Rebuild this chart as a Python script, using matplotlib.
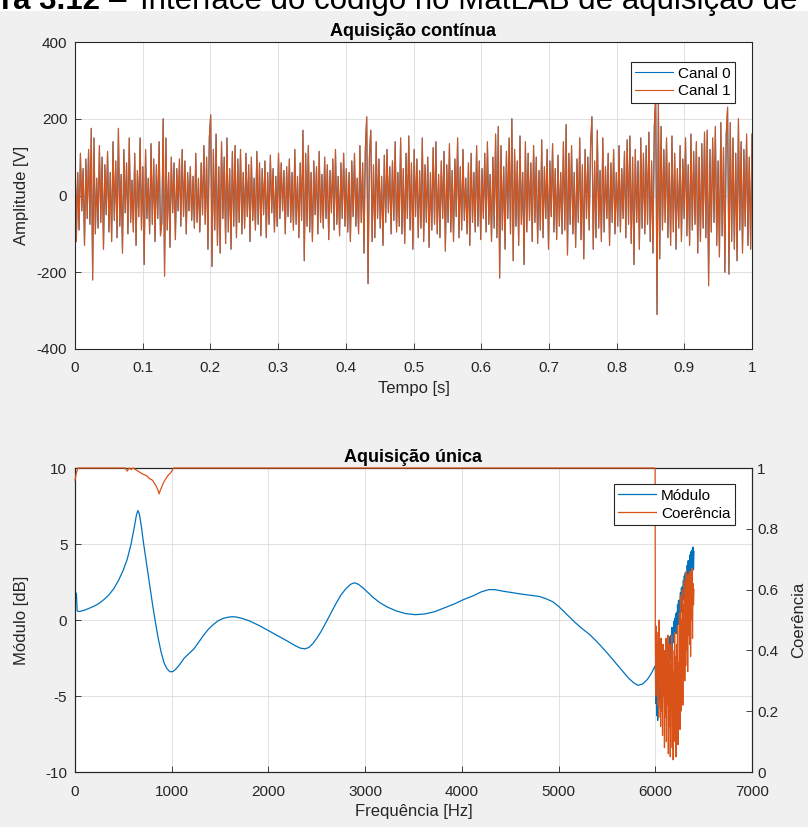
import matplotlib.pyplot as plt
import numpy as np
from matplotlib.patches import Rectangle

plt.rcParams['font.family'] = ['Liberation Sans', 'DejaVu Sans']
plt.rcParams['axes.unicode_minus'] = False

# Top chart: acquired signal (Canal 0 and Canal 1 overlap almost exactly)
canal_1 = [
    150, -120, 60, -90, 110, -40, 70, -130, 95, -60, 120, -75, 175, -220, 150, -100, 45, -85, 130, -70,
    100, -140, 80, -50, 115, -95, 60, -120, 140, -65, 90, -110, 175, -80, 55, -150, 120, -45, 85, -100,
    150, -70, 40, -95, 110, -130, 65, -55, 150, -90, 75, -180, 120, -60, 45, -100, 135, -75, 95, -120,
    80, -60, 140, -105, -70, 200, -210, 150, -90, 60, -135, 100, -45, 85, -115, 70, -40, 95, -80, 120,
    -55, 90, -100, 60, -40, 75, -65, 50, -85, 110, -70, 45, -95, 85, -50, 130, -75, 100, -140, 150,
    210, -185, 120, -90, 160, -130, 75, -150, 140, -60, 100, -125, 150, -95, 70, -140, 115, -80, 130, -110,
    95, -70, 120, -100, 60, -85, 110, -55, 80, -120, 100, -65, 45, -90, 115, -75, 85, -105, 70, -50,
    90, -110, 60, -75, 105, -45, 70, -95, 50, -80, 110, -60, 85, -40, 65, -100, 75, -55, 95, -70,
    60, -90, 120, -75, 50, -110, 85, -65, 170, -170, 110, -80, 130, -95, 60, -120, 90, -50, 75, -100,
    115, -70, 55, -85, 100, -60, 80, -115, 65, -45, 95, -90, 120, -75, 50, -105, 85, -60, 110, -80,
    70, -95, 60, -120, 90, -55, 110, -80, 45, -100, 130, -70, 85, -150, 120, 205, -230, 100, 170, -120,
    80, -110, 140, -60, 95, -85, 50, -130, 105, -70, 120, -45, 75, -100, 90, -65, 140, -95, 60, -80,
    150, -100, 70, -125, 110, -60, 155, -90, 85, -140, 120, -55, 95, -110, 65, -85, 150, -120, 80, -70,
    100, -135, 60, -90, 125, -75, 140, -100, 55, -110, 90, -60, 115, -145, 80, -70, 135, -95, 65, -120,
    95, -55, 150, -110, 75, -90, 120, -65, 45, -100, 85, -130, 110, -70, 60, -95, 130, -80, 90, -115,
    70, -60, 110, -95, 140, -75, 55, -120, 100, -85, 160, -110, 180, -215, 130, -90, 75, -140, 115, -60,
    150, -100, 200, -170, 120, -80, 90, -130, 155, -75, 60, -180, 140, -95, 110, -65, 85, -120, 130, -70,
    100, -125, 65, -90, 145, -110, 75, -60, 120, -140, 90, -55, 135, -95, 70, -115, 105, -80, 60, -100,
    140, -90, 185, -155, 110, -75, 130, -100, 60, -135, 95, -70, 150, -115, 80, -165, 120, -60, 100, -90,
    130, 205, -140, 90, -110, 170, -85, 65, -120, 150, -95, 75, -60, 110, -130, 85, -70, 120, -100, 60,
    -80, 130, -95, 70, -60, 115, -110, 145, -75, 155, -125, 100, -180, 120, -70, 90, -140, 150, -85, 110,
    -100, 130, -75, 165, -120, 90, -150, 180, 260, -310, 240, -165, 180, -90, 120, -70, 150, -110, 85, -130,
    155, -95, 110, -140, 70, -85, 130, -120, 95, -60, 150, -105, 80, -130, 160, -90, 115, -75, 140, -150,
    100, -120, 135, -85, 165, -110, 170, -235, 120, -95, 150, -70, 180, -130, 90, -160, 190, -105, 125, -200,
    160, 230, -205, 190, -120, 150, -140, 110, -170, 200, -90, 140, -150, 120, -80, 160, -130, 100, -140, 160,
]
canal_0 = list(canal_1)

# Bottom chart: smooth part of the magnitude (Hz, dB)
mod_freq = [0, 8, 15, 22, 40, 100, 150, 200, 250, 300, 350, 400, 450, 500, 540, 580, 610, 635, 650,
            665, 685, 710, 740, 770, 800, 830, 860, 890, 920, 950, 980, 1010, 1040, 1080, 1130, 1180,
            1230, 1280, 1330, 1380, 1430, 1480, 1530, 1580, 1630, 1680, 1730, 1800, 1900, 2000, 2100,
            2200, 2280, 2330, 2380, 2420, 2460, 2500, 2550, 2600, 2650, 2700, 2750, 2800, 2850, 2890,
            2930, 2980, 3030, 3080, 3150, 3230, 3320, 3420, 3520, 3620, 3720, 3820, 3920, 4020, 4120,
            4200, 4280, 4340, 4420, 4520, 4620, 4720, 4800, 4870, 4940, 5000, 5080, 5160, 5240, 5320,
            5400, 5480, 5560, 5640, 5720, 5780, 5822, 5870, 5920, 5960, 6000]
mod_db = [1.6, 1.8, 1.7, 0.6, 0.55, 0.65, 0.78, 0.92, 1.1, 1.35, 1.65, 2.05, 2.6, 3.3, 4.0, 5.0, 6.0, 6.9, 7.2,
          7.0, 6.2, 5.0, 3.7, 2.4, 1.1, -0.1, -1.2, -2.1, -2.8, -3.2, -3.4, -3.4, -3.25, -2.95, -2.5, -2.2,
          -1.9, -1.45, -1.0, -0.6, -0.3, -0.05, 0.1, 0.18, 0.22, 0.18, 0.1, -0.05, -0.35, -0.7, -1.05,
          -1.4, -1.7, -1.85, -1.9, -1.8, -1.55, -1.2, -0.7, -0.1, 0.5, 1.1, 1.65, 2.05, 2.35, 2.45,
          2.35, 2.1, 1.8, 1.5, 1.15, 0.85, 0.6, 0.42, 0.35, 0.4, 0.55, 0.8, 1.05, 1.35, 1.6,
          1.85, 2.0, 2.0, 1.9, 1.8, 1.7, 1.62, 1.55, 1.4, 1.2, 0.9, 0.4, -0.1, -0.55, -0.95,
          -1.45, -2.0, -2.6, -3.2, -3.8, -4.15, -4.3, -4.2, -3.9, -3.5, -3.0]

# noisy part of the magnitude, 6000 to 6400 Hz
mod_db_noisy = [-3.0, -5.5, -4.0, -6.3, -3.8, -6.6, -4.5, -5.8, -3.6, -5.2, -4.1, -5.6, -3.2, -4.9, -3.6,
                -4.5, -2.8, -4.3, -3.1, -4.4, -2.5, -3.9, -2.4, -3.5, -2.1, -3.4, -1.7, -3.1, -1.6, -2.7,
                -1.1, -2.6, -1.0, -2.1, -0.5, -2.0, -0.5, -1.5, -0.1, -1.4, 0.1, -0.9, 0.4, -0.9, 0.5,
                -0.4, 1.0, -0.3, 1.3, 0.2, 1.3, 0.5, 1.8, 0.5, 2.1, 0.8, 2.2, 1.3, 2.6, 1.4, 2.9,
                1.6, 3.1, 2.1, 3.1, 2.3, 3.6, 2.4, 3.9, 2.7, 3.9, 3.1, 4.3, 3.1, 4.5, 3.5, 4.6, 3.4,
                4.8, 3.3, 4.5]

# coherence, low frequency part (Hz, -)
coh_freq = [0, 15, 30, 520, 540, 560, 580, 600, 650, 700, 740, 770, 800, 820, 840, 860, 870, 880,
            900, 920, 940, 960, 990, 1020, 5998]
coh_val = [0.96, 0.985, 1.0, 1.0, 0.99, 1.0, 0.995, 1.0, 0.99, 0.98, 0.975, 0.965, 0.96, 0.95, 0.94,
           0.925, 0.915, 0.925, 0.94, 0.955, 0.965, 0.975, 0.985, 1.0, 1.0]

# coherence, noisy part 6000 to 6400 Hz
coh_noisy = [0.45, 0.25, 0.48, 0.30, 0.42, 0.22, 0.46, 0.18, 0.50, 0.28, 0.40, 0.15, 0.44, 0.20, 0.38,
             0.12, 0.42, 0.25, 0.35, 0.08, 0.40, 0.18, 0.44, 0.10, 0.36, 0.22, 0.45, 0.06, 0.38, 0.15,
             0.42, 0.05, 0.35, 0.20, 0.45, 0.08, 0.40, 0.04, 0.33, 0.12, 0.46, 0.10, 0.38, 0.05, 0.42,
             0.15, 0.48, 0.09, 0.36, 0.18, 0.52, 0.14, 0.58, 0.20, 0.50, 0.28, 0.60, 0.22, 0.55, 0.32,
             0.63, 0.30, 0.58, 0.35, 0.66, 0.40, 0.62, 0.33, 0.65, 0.45, 0.60, 0.42, 0.66, 0.38, 0.64,
             0.50, 0.67, 0.44, 0.62, 0.55, 0.60]

blue = '#0072BD'
orange = '#D95319'
dark = '#262626'
grid_c = '#dcdcdc'

fig = plt.figure(figsize=(8.08, 8.27), dpi=100, facecolor='#f0f0f0')
W, H = 808, 827

# white strip with the cut-off caption at the very top
fig.patches.append(Rectangle((0, 1 - 11 / H), 1, 11 / H, transform=fig.transFigure,
                             facecolor='white', edgecolor='none', zorder=-1))
fig.text(100 / W, 1 - 9 / H, 'ra 3.12', ha='right', va='baseline', fontsize=22.5,
         fontweight='bold', color='black')
fig.text(109 / W, 1 - 9 / H, '\u2013', ha='left', va='baseline', fontsize=22.5, color='black')
fig.text(140 / W, 1 - 9 / H, 'Interface do código no MatLAB de aquisição de', ha='left',
         va='baseline', fontsize=22.5, color='black')


def style(ax):
    ax.set_facecolor('white')
    for s in ax.spines.values():
        s.set_color(dark)
        s.set_linewidth(0.8)
    ax.tick_params(direction='in', length=4, width=0.6, colors=dark, labelsize=11)
    ax.tick_params(axis='x', pad=9)
    ax.tick_params(axis='y', pad=5.5)
    ax.grid(True, color=grid_c, linewidth=0.6)
    ax.set_axisbelow(True)


# ---- top chart
ax1 = fig.add_axes([75 / W, 1 - 349 / H, 677 / W, 307 / H])
style(ax1)
t = np.linspace(0, 1, len(canal_1))
ax1.plot(t, canal_0, color=blue, lw=0.8, label='Canal 0')
ax1.plot(t, canal_1, color=orange, lw=0.8, label='Canal 1')
ax1.set_xlim(0, 1)
ax1.set_ylim(-400, 400)
ax1.set_xticks(np.arange(0, 1.01, 0.1))
ax1.set_xticklabels(['0', '0.1', '0.2', '0.3', '0.4', '0.5', '0.6', '0.7', '0.8', '0.9', '1'])
ax1.set_yticks([-400, -200, 0, 200, 400])
ax1.set_xlabel('Tempo [s]', fontsize=12, color=dark, labelpad=4)
ax1.set_ylabel('Amplitude [V]', fontsize=12, color=dark, labelpad=6)
ax1.set_title('Aquisição contínua', fontsize=13, fontweight='bold', color='black', pad=4)
leg = ax1.legend(loc='upper right', bbox_to_anchor=(0.975, 0.935), borderaxespad=0,
                 fontsize=11, fancybox=False, framealpha=1, edgecolor=dark,
                 handlelength=2.5, borderpad=0.3, labelspacing=0.25, handletextpad=0.3)
leg.get_frame().set_linewidth(0.8)

# ---- bottom chart
ax2 = fig.add_axes([75 / W, 1 - 772 / H, 677 / W, 304 / H])
style(ax2)
axc = ax2.twinx()
for s in axc.spines.values():
    s.set_color(dark)
    s.set_linewidth(0.8)
axc.tick_params(direction='in', length=4, width=0.6, colors=dark, labelsize=11, pad=3.6)

f_noisy = np.linspace(6000, 6400, len(mod_db_noisy))
f_mod = np.concatenate([mod_freq, f_noisy[1:]])
v_mod = np.concatenate([mod_db, mod_db_noisy[1:]])
l1, = ax2.plot(f_mod, v_mod, color=blue, lw=0.9, label='Módulo')

fc_noisy = np.linspace(6000, 6400, len(coh_noisy))
f_coh = np.concatenate([coh_freq, fc_noisy])
v_coh = np.concatenate([coh_val, coh_noisy])
l2, = axc.plot(f_coh, v_coh, color=orange, lw=0.9, label='Coerência', clip_on=False, zorder=3)

ax2.set_xlim(0, 7000)
ax2.set_ylim(-10, 10)
ax2.set_xticks(np.arange(0, 7001, 1000))
ax2.set_yticks([-10, -5, 0, 5, 10])
axc.set_ylim(0, 1)
axc.set_yticks([0, 0.2, 0.4, 0.6, 0.8, 1])
axc.set_yticklabels(['0', '0.2', '0.4', '0.6', '0.8', '1'])
ax2.set_xlabel('Frequência [Hz]', fontsize=12, color=dark, labelpad=4)
ax2.set_ylabel('Módulo [dB]', fontsize=12, color=dark, labelpad=12)
axc.set_ylabel('Coerência', fontsize=12, color=dark, labelpad=9)
ax2.set_title('Aquisição única', fontsize=13, fontweight='bold', color='black', pad=4)
leg2 = axc.legend([l1, l2], ['Módulo', 'Coerência'], loc='upper right',
                  bbox_to_anchor=(0.975, 0.947), borderaxespad=0, fontsize=11, fancybox=False,
                  framealpha=1, edgecolor=dark, handlelength=2.5, borderpad=0.3,
                  labelspacing=0.25, handletextpad=0.3)
leg2.get_frame().set_linewidth(0.8)
leg2.set_zorder(5)

fig.savefig('out.png', dpi=100, facecolor=fig.get_facecolor())
